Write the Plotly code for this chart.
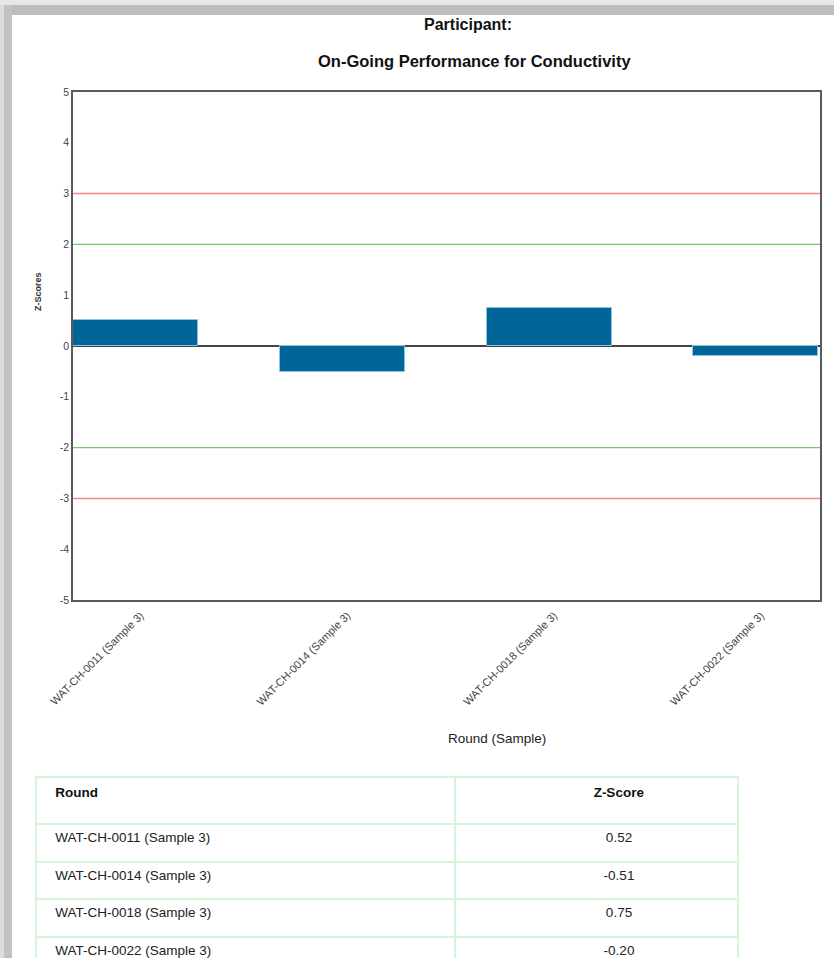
import plotly.graph_objects as go

# ---- data ----
rounds = ["WAT-CH-0011 (Sample 3)", "WAT-CH-0014 (Sample 3)",
          "WAT-CH-0018 (Sample 3)", "WAT-CH-0022 (Sample 3)"]
z_scores = [0.52, -0.51, 0.75, -0.20]
warning_limits = [2, -2]
action_limits = [3, -3]
y_ticks = [-5, -4, -3, -2, -1, 0, 1, 2, 3, 4, 5]
y_tick_labels = ["-5", "-4", "-3", "-2", "-1", "0", "1", "2", "3", "4", "5"]

W, H = 834, 958
FONT = "Liberation Sans, Arial, sans-serif"

def px_x(p):
    return p / W

def px_y(p):
    return 1 - p / H

fig = go.Figure()

fig.add_trace(go.Bar(
    x=rounds, y=z_scores, width=0.604,
    marker=dict(color="#006699", line=dict(color="#8fc3de", width=1)),
    showlegend=False, hoverinfo="x+y",
    xaxis="x", yaxis="y",
))

# table
NB = "\u00a0"
fig.add_trace(go.Table(
    domain=dict(x=[px_x(36), px_x(738)], y=[0, px_y(777)]),
    columnwidth=[419, 283],
    header=dict(
        values=[NB * 3 + "<b>Round</b>", NB * 12 + "<b>Z-Score</b>"],
        align=["left", "center"],
        fill=dict(color="white"),
        line=dict(color="#d8f4d8", width=2),
        font=dict(family=FONT, size=13.5, color="#111"),
        height=47,
    ),
    cells=dict(
        values=[[NB * 3 + r for r in rounds], [NB * 12 + f"{v:.2f}" for v in z_scores]],
        align=["left", "center"],
        fill=dict(color="white"),
        line=dict(color="#d8f4d8", width=2),
        font=dict(family=FONT, size=13.5, color="#222"),
        height=37.5,
    ),
))

shapes = []
# screenshot frame (gray border)
shapes.append(dict(type="rect", xref="paper", yref="paper", x0=0, x1=1, y0=px_y(5), y1=1,
                   fillcolor="#e7e7e7", line=dict(width=0), layer="below"))
shapes.append(dict(type="rect", xref="paper", yref="paper", x0=px_x(12), x1=1, y0=px_y(15), y1=px_y(5),
                   fillcolor="#bdbdbd", line=dict(width=0), layer="below"))
shapes.append(dict(type="rect", xref="paper", yref="paper", x0=0, x1=px_x(4), y0=0, y1=px_y(5),
                   fillcolor="#dcdcdc", line=dict(width=0), layer="below"))
shapes.append(dict(type="rect", xref="paper", yref="paper", x0=px_x(4), x1=px_x(12), y0=0, y1=px_y(5),
                   fillcolor="#c2c2c2", line=dict(width=0), layer="below"))

for v in action_limits:
    shapes.append(dict(type="line", xref="x domain", yref="y", x0=0, x1=1, y0=v, y1=v,
                       line=dict(color="#f08a8a", width=1.5), layer="below"))
for v in warning_limits:
    shapes.append(dict(type="line", xref="x domain", yref="y", x0=0, x1=1, y0=v, y1=v,
                       line=dict(color="#6fcf5a", width=1.2), layer="below"))

annotations = [
    dict(text="<b>Participant:</b>", x=px_x(468), y=px_y(24), xref="paper", yref="paper",
         showarrow=False, font=dict(family=FONT, size=16, color="#111"), xanchor="center", yanchor="middle"),
    dict(text="<b>On-Going Performance for Conductivity</b>", x=px_x(474), y=px_y(61),
         xref="paper", yref="paper", showarrow=False,
         font=dict(family=FONT, size=16.5, color="#111"), xanchor="center", yanchor="middle"),
    dict(text="Round (Sample)", x=px_x(497), y=px_y(738), xref="paper", yref="paper",
         showarrow=False, font=dict(family=FONT, size=13.5, color="#222"), xanchor="center", yanchor="middle"),
    dict(text="<b>Z-Scores</b>", x=px_x(38), y=px_y(292), xref="paper", yref="paper", textangle=-90,
         showarrow=False, font=dict(family=FONT, size=9, color="#333"), xanchor="center", yanchor="middle"),
]

fig.update_layout(
    width=W, height=H,
    margin=dict(l=0, r=0, t=0, b=0, autoexpand=False),
    paper_bgcolor="white", plot_bgcolor="white",
    font=dict(family=FONT),
    bargap=0,
    shapes=shapes,
    annotations=annotations,
    xaxis=dict(
        domain=[px_x(73), px_x(820)],
        type="category",
        range=[-0.302, 3.31],
        automargin=False,
        showline=True, mirror=True, linecolor="#5a5a5a", linewidth=1.5,
        showgrid=False, ticks="", zeroline=False,
        tickangle=-45, tickfont=dict(family=FONT, size=11, color="#444"),
        ticklabelshift=5, ticklabelstandoff=3,
        anchor="y",
    ),
    yaxis=dict(
        domain=[px_y(600), px_y(92)],
        range=[-5, 5],
        tickvals=y_ticks, ticktext=y_tick_labels,
        automargin=False,
        showline=True, mirror=True, linecolor="#5a5a5a", linewidth=1.5,
        showgrid=False, ticks="",
        zeroline=True, zerolinecolor="#444", zerolinewidth=2,
        tickfont=dict(family=FONT, size=10.5, color="#444"),
        anchor="x",
    ),
)

fig.write_html("out.html", config={"displayModeBar": False},
               post_script="document.body.style.margin='0';document.body.style.overflow='hidden';")
